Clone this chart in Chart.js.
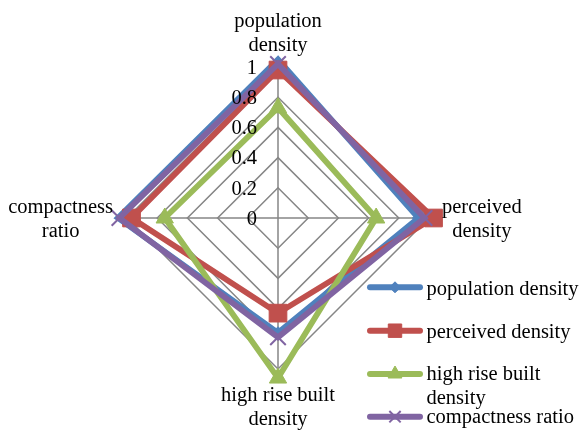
<!DOCTYPE html>
<html><head><meta charset="utf-8">
<script src="https://cdn.jsdelivr.net/npm/chart.js@4.4.0/dist/chart.umd.min.js"></script>
<style>html,body{margin:0;padding:0;background:#fff}#wrap{width:583px;height:430px;position:relative}</style>
</head><body><div id="wrap"><canvas id="c" width="583" height="430"></canvas></div>
<script>
// ---- data ----
const categories = [['population', 'density'], ['perceived', 'density'], ['high rise built', 'density'], ['compactness', 'ratio']];
const seriesNames = ['population density', 'perceived density', 'high rise built density', 'compactness ratio'];
const legendLabels = [['population density'], ['perceived density'], ['high rise built', 'density'], ['compactness ratio']];
const populationDensity = [1.05, 0.93, 0.76, 1.06];
const perceivedDensity = [0.98, 1.03, 0.63, 0.97];
const highRiseBuiltDensity = [0.73, 0.65, 1.06, 0.75];
const compactnessRatio = [1.02, 0.97, 0.79, 1.05];
const tickValues = [0, 0.2, 0.4, 0.6, 0.8, 1];
const tickLabels = ['0', '0.2', '0.4', '0.6', '0.8', '1'];

// ---- styles ----
const FONT = '20.5px "Liberation Serif", "Times New Roman", serif';
const BLUE = '#4F81BD', RED = '#C0504D', GREEN = '#9BBB59', PURPLE = '#8064A2';
const GRID = '#868686';

function ds(label, data, color, style, radius, order, bw) {
  return {
    label, data, order,
    borderColor: color, backgroundColor: color,
    borderWidth: 5.8, fill: false, tension: 0, clip: false,
    pointStyle: style, pointRadius: radius, pointHoverRadius: radius,
    pointBackgroundColor: color, pointBorderColor: color, pointBorderWidth: bw
  };
}

const datasets = [
  ds(seriesNames[0], populationDensity, BLUE, 'rectRot', 6, 4, 1),
  ds(seriesNames[1], perceivedDensity, RED, 'rect', 12.5, 3, 1),
  ds(seriesNames[2], highRiseBuiltDensity, GREEN, 'triangle', 10, 2, 1),
  ds(seriesNames[3], compactnessRatio, PURPLE, 'crossRot', 11, 1, 2)
];
const legendMarker = [
  {pointStyle: 'rectRot', radius: 5.5, borderWidth: 1},
  {pointStyle: 'rect', radius: 9.5, borderWidth: 1},
  {pointStyle: 'triangle', radius: 8, borderWidth: 1},
  {pointStyle: 'crossRot', radius: 8, borderWidth: 2}
];

function drawMarker(ctx, o, x, y) {
  if (Chart.helpers && Chart.helpers.drawPoint) {
    Chart.helpers.drawPoint(ctx, {pointStyle: o.pointStyle, radius: o.radius, borderWidth: o.borderWidth, rotation: 0}, x, y);
  }
}

const textPlugin = {
  id: 'texts',
  afterDatasetsDraw(chart) {
    const ctx = chart.ctx, r = chart.scales.r;
    ctx.save();
    ctx.font = FONT;
    ctx.fillStyle = '#000';
    // tick labels, right aligned left of the vertical axis
    ctx.textAlign = 'right';
    ctx.textBaseline = 'middle';
    tickValues.forEach((v, i) => {
      const p = r.getPointPositionForValue(0, v);
      ctx.fillText(tickLabels[i], r.xCenter - 21, p.y + 1.5);
    });
    // axis (point) labels
    ctx.textBaseline = 'alphabetic';
    ctx.textAlign = 'center';
    categories.forEach((lines, i) => {
      const p = r.getPointPosition(i, r.drawingArea);
      const bw = Math.max(...lines.map(l => ctx.measureText(l).width));
      const dx = p.x - r.xCenter, dy = p.y - r.yCenter;
      let cx, base;
      if (dy < -1 && Math.abs(dx) < 1) { cx = p.x; base = p.y - 17 - 23 * (lines.length - 1); }
      else if (dy > 1 && Math.abs(dx) < 1) { cx = p.x; base = p.y + 32; }
      else if (dx > 0) { cx = p.x + 13 + bw / 2; base = p.y - 5; }
      else { cx = p.x - 14 - bw / 2; base = p.y - 5; }
      lines.forEach((l, k) => ctx.fillText(l, cx, base + k * 23.5));
    });
    // legend
    const legendY = [287.3, 330.7, 374, 416.7];
    const textOff = [7.7, 7.6, 6.2, 6.6];
    datasets.forEach((d, i) => {
      const y = legendY[i];
      ctx.strokeStyle = d.borderColor;
      ctx.lineWidth = 6;
      ctx.lineCap = 'round';
      ctx.beginPath(); ctx.moveTo(370, y); ctx.lineTo(420, y); ctx.stroke();
      ctx.lineCap = 'butt';
      ctx.fillStyle = d.borderColor;
      ctx.strokeStyle = d.borderColor;
      ctx.lineWidth = legendMarker[i].borderWidth;
      drawMarker(ctx, legendMarker[i], 395, y);
      ctx.fillStyle = '#000';
      ctx.textAlign = 'left';
      legendLabels[i].forEach((l, k) => ctx.fillText(l, 426.5, y + textOff[i] + k * 24));
    });
    ctx.restore();
  }
};

new Chart(document.getElementById('c'), {
  type: 'radar',
  data: { labels: categories, datasets },
  options: {
    responsive: false,
    animation: false,
    events: [],
    layout: { padding: { left: 127, right: 154, top: 67, bottom: 61 } },
    elements: { line: { borderJoinStyle: 'miter' } },
    plugins: { legend: { display: false }, tooltip: { enabled: false } },
    scales: {
      r: {
        min: 0, max: 1,
        ticks: { display: false, stepSize: 0.2 },
        pointLabels: { display: false },
        grid: { color: GRID, lineWidth: 1.5 },
        angleLines: { color: GRID, lineWidth: 1.5 }
      }
    }
  },
  plugins: [textPlugin]
});
</script>
</body></html>
